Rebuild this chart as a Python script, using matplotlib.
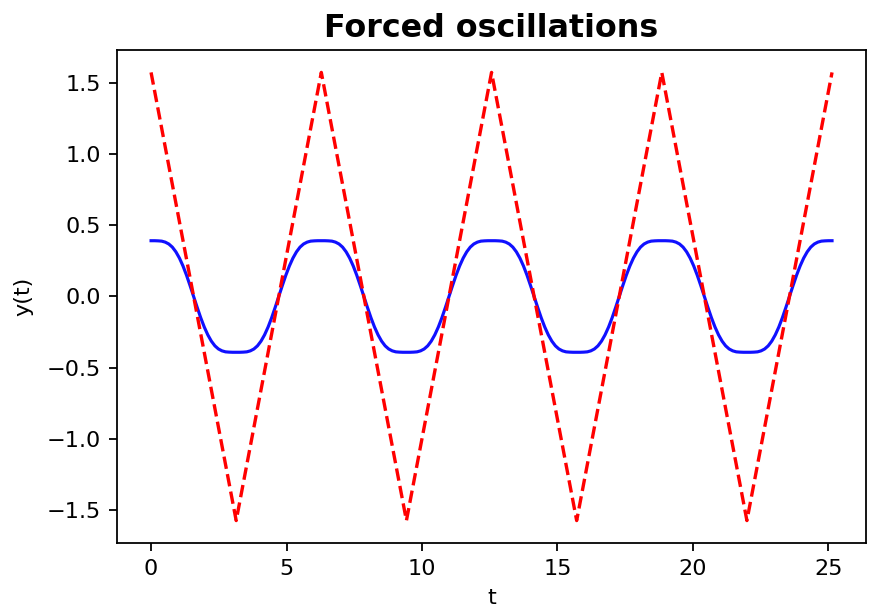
"""
Forced oscillations: triangle-wave forcing and the steady response
"""

import numpy as np
import matplotlib
matplotlib.use('Agg')
import matplotlib.pyplot as plt

# forcing: triangle wave, vertices
force_t = [0.0, 3.1416, 6.2832, 9.4248, 12.5664, 15.708, 18.8496, 21.9911, 25.1327]
force_y = [1.5708, -1.5708, 1.5708, -1.5708, 1.5708, -1.5708, 1.5708, -1.5708, 1.5708]

# response: sampled every pi/24 over four periods
resp_y = [
    0.391, 0.391, 0.390, 0.388, 0.381, 0.368, 0.346, 0.313, 0.269, 0.214, 0.149, 0.076,
    0.000, -0.076, -0.149, -0.214, -0.269, -0.313, -0.346, -0.368, -0.381, -0.388, -0.390, -0.391,
    -0.391, -0.391, -0.390, -0.388, -0.381, -0.368, -0.346, -0.313, -0.269, -0.214, -0.149, -0.076,
    0.000, 0.076, 0.149, 0.214, 0.269, 0.313, 0.346, 0.368, 0.381, 0.388, 0.390, 0.391,
    0.391, 0.391, 0.390, 0.388, 0.381, 0.368, 0.346, 0.313, 0.269, 0.214, 0.149, 0.076,
    0.000, -0.076, -0.149, -0.214, -0.269, -0.313, -0.346, -0.368, -0.381, -0.388, -0.390, -0.391,
    -0.391, -0.391, -0.390, -0.388, -0.381, -0.368, -0.346, -0.313, -0.269, -0.214, -0.149, -0.076,
    0.000, 0.076, 0.149, 0.214, 0.269, 0.313, 0.346, 0.368, 0.381, 0.388, 0.390, 0.391,
    0.391, 0.391, 0.390, 0.388, 0.381, 0.368, 0.346, 0.313, 0.269, 0.214, 0.149, 0.076,
    0.000, -0.076, -0.149, -0.214, -0.269, -0.313, -0.346, -0.368, -0.381, -0.388, -0.390, -0.391,
    -0.391, -0.391, -0.390, -0.388, -0.381, -0.368, -0.346, -0.313, -0.269, -0.214, -0.149, -0.076,
    0.000, 0.076, 0.149, 0.214, 0.269, 0.313, 0.346, 0.368, 0.381, 0.388, 0.390, 0.391,
    0.391, 0.391, 0.390, 0.388, 0.381, 0.368, 0.346, 0.313, 0.269, 0.214, 0.149, 0.076,
    0.000, -0.076, -0.149, -0.214, -0.269, -0.313, -0.346, -0.368, -0.381, -0.388, -0.390, -0.391,
    -0.391, -0.391, -0.390, -0.388, -0.381, -0.368, -0.346, -0.313, -0.269, -0.214, -0.149, -0.076,
    0.000, 0.076, 0.149, 0.214, 0.269, 0.313, 0.346, 0.368, 0.381, 0.388, 0.390, 0.391,
    0.391,
]
resp_t = np.linspace(0, 25.1327, len(resp_y))

S = 1.61  # scale from the original render to 100 dpi

plt.rcParams.update({
    'font.size': 10 * S,
    'axes.linewidth': 0.8 * S,
    'xtick.major.size': 3.5 * S,
    'ytick.major.size': 3.5 * S,
    'xtick.major.width': 0.8 * S,
    'ytick.major.width': 0.8 * S,
    'xtick.major.pad': 3.5 * S,
    'ytick.major.pad': 3.5 * S,
})

fig = plt.figure(figsize=(8.7, 6.09), dpi=100)
ax = fig.add_axes([0.1345, 0.1084, 0.861, 0.8095])

ax.plot(resp_t, resp_y, color='#1010ff', lw=1.4 * S)
ax.plot(force_t, force_y, 'r--', lw=1.5 * S, dashes=(3.7, 1.6))

ax.set_xticks([0, 5, 10, 15, 20, 25])
ax.set_yticks([-1.5, -1.0, -0.5, 0.0, 0.5, 1.0, 1.5])
ax.set_xlabel('t', labelpad=4 * S)
ax.set_ylabel('y(t)', labelpad=6 * S)
ax.set_title('Forced oscillations', fontsize=14.2 * S, fontweight='bold', pad=6 * S)

plt.savefig('out.png', dpi=100)
plt.close()
